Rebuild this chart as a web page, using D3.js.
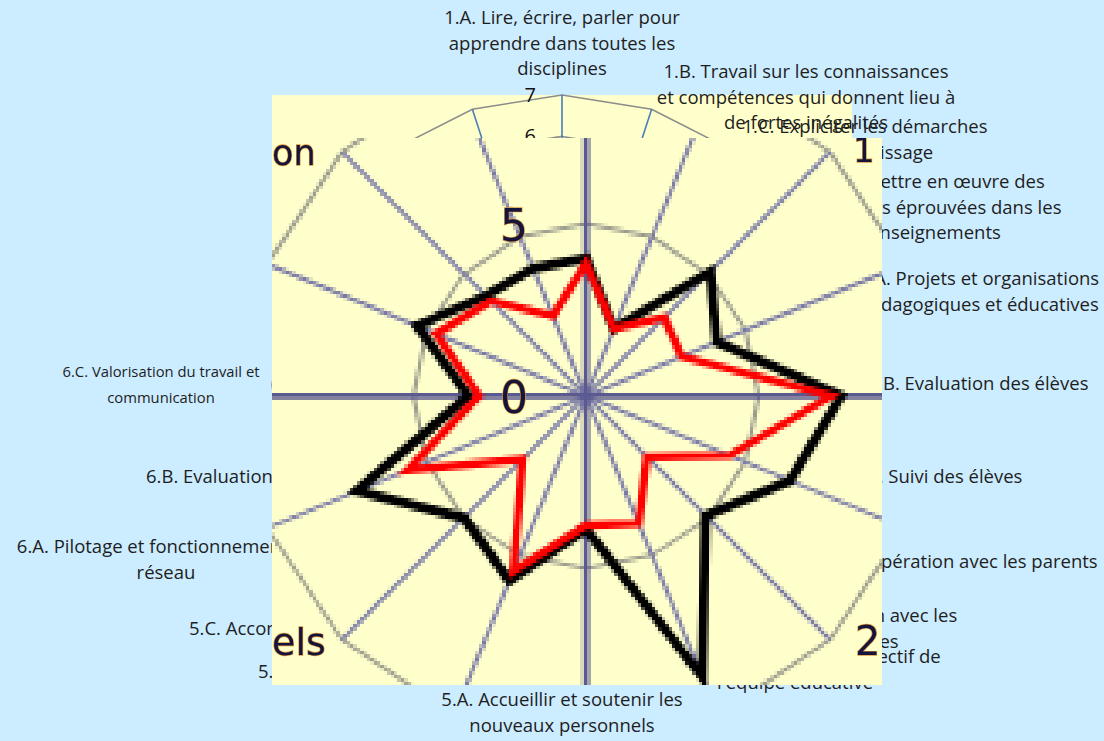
<!DOCTYPE html>
<html><head><meta charset="utf-8">
<script src="https://cdn.jsdelivr.net/npm/d3@7"></script>
<style>
html,body{margin:0;padding:0;background:#ccecff;}
#wrap{position:relative;width:1104px;height:741px;overflow:hidden;background:#ccecff;}
#wrap svg,#wrap canvas{position:absolute;left:0;top:0;}
</style></head><body><div id="wrap"></div>
<script>
// ---------- DATA ----------
// outer (vector) radar: 20 axes, scale 0..7
const categoryLabels = [
  ["1.A. Lire, écrire, parler pour","apprendre dans toutes les","disciplines"],
  ["1.B. Travail sur les connaissances","et compétences qui donnent lieu à","de fortes inégalités"],
  ["1.C. Expliciter les démarches","d’apprentissage"],
  ["1.D. Mettre en œuvre des","pratiques éprouvées dans les","enseignements"],
  ["2.A. Projets et organisations","pédagogiques et éducatives"],
  ["2.B. Evaluation des élèves"],
  ["2.C. Suivi des élèves"],
  ["3.A. Coopération avec les parents"],
  ["3.B. Coopération avec les","partenaires"],
  ["4.A. Favoriser le travail collectif de","l'équipe éducative"],
  ["5.A. Accueillir et soutenir les","nouveaux personnels"],
  ["5.B. Former les personnels"],
  ["5.C. Accompagner les personnels"],
  ["6.A. Pilotage et fonctionnement du","réseau"],
  ["6.B. Evaluation du réseau"],
  ["6.C. Valorisation du travail et","communication"],
  [""],[""],[""],[""]
];
const outerTicks = [0,1,2,3,4,5,6,7];

// inner (pasted, pixelated) radar: 16 axes, scale 0..10
const innerTicks = [0,5,10];
const innerTickLabels = ["0","5"];
const seriesBlack = [4.0,2.1,5.1,4.1,7.4,6.4,4.9,8.8,3.85,5.8,5.0,7.2,3.4,5.3,4.1,4.0];
const seriesRed   = [3.85,2.1,3.2,3.0,7.1,4.5,2.5,4.0,3.75,5.5,2.6,5.6,3.1,4.7,3.9,2.5];
const innerFragments = ["on","els","1","2"];

// ---------- LAYOUT ----------
const W=1104,H=741;
const plot={x:272,y:95,w:580,h:590};
const oc={x:562,y:385}, oR=290;
const img={x:272,y:138,w:610,h:547};
const ic={x:586,y:396}, iR=345;
// [x, first baseline, anchor, font size]
const labelLayout=[
  [562,24,"middle",18.5],[806,78,"middle",18.5],[865,133,"middle",18.5],[935,188,"middle",18.5],
  [979,285,"middle",18.5],[978,390,"middle",18.5],[937,483,"middle",18.5],[954,568,"middle",18.5],
  [849,622,"middle",18.5],[795,663,"middle",18.5],[562,706,"middle",18.5],[258,678,"start",18.5],
  [189,635,"start",18.5],[166,553,"middle",18.5],[146,483,"start",18.5],[161,377,"middle",14.8],
  [0,0,"middle",18.5],[0,0,"middle",18.5],[0,0,"middle",18.5],[0,0,"middle",18.5]
];
const fragLayout=[[272,165,35],[272,655,38],[853,162,34],[855,655,40]];
const lineGap=25.5;
const FONT="'Open Sans', sans-serif";

const wrap=d3.select("#wrap");

// ---------- bottom svg: vector radar ----------
const svg=wrap.append("svg").attr("width",W).attr("height",H);
svg.append("rect").attr("width",W).attr("height",H).attr("fill","#ccecff");
svg.append("rect").attr("x",plot.x).attr("y",plot.y).attr("width",plot.w).attr("height",plot.h).attr("fill","#ffffcc");

const nO=categoryLabels.length;
const rO=d3.scaleLinear().domain([0,d3.max(outerTicks)]).range([0,oR]);
const angO=i=>i*2*Math.PI/nO;
const g=svg.append("g").attr("transform",`translate(${oc.x},${oc.y})`);
const ringO=d3.lineRadial().angle((d,i)=>angO(i)).radius(d=>rO(d)).curve(d3.curveLinearClosed);
outerTicks.filter(t=>t>0).forEach(t=>{
  g.append("path").attr("d",ringO(d3.range(nO).map(()=>t)))
   .attr("fill","none").attr("stroke","#8c8c8c").attr("stroke-width",1.6);
});
d3.range(nO).forEach(i=>{
  const a=angO(i), r=rO(d3.max(outerTicks));
  g.append("line").attr("x1",0).attr("y1",0)
   .attr("x2",r*Math.sin(a)).attr("y2",-r*Math.cos(a))
   .attr("stroke","#4a7ebb").attr("stroke-width",1.6);
});
outerTicks.forEach(t=>{
  g.append("text").attr("x",-26).attr("y",-rO(t)+7).attr("text-anchor","end")
   .attr("font-family",FONT).attr("font-size",20).attr("fill","#111").text(t);
});
categoryLabels.forEach((lines,i)=>{
  const [x,y,anc,fs]=labelLayout[i];
  const t=svg.append("text").attr("font-family",FONT).attr("font-size",fs)
    .attr("fill","#1e1e1e").attr("text-anchor",anc);
  lines.forEach((s,k)=>t.append("tspan").attr("x",x).attr("y",y+k*lineGap).text(s));
});

// ---------- canvas: pixelated pasted radar ----------
const cw=180, ch=161;
const cv=wrap.append("canvas").attr("width",cw).attr("height",ch)
  .style("left",img.x+"px").style("top",img.y+"px")
  .style("width",img.w+"px").style("height",img.h+"px")
  .style("image-rendering","pixelated");
const ctx=cv.node().getContext("2d");
const sx=cw/img.w, sy=ch/img.h;
ctx.setTransform(sx,0,0,sy,-img.x*sx,-img.y*sy);
ctx.fillStyle="#ffffcc"; ctx.fillRect(img.x,img.y,img.w,img.h);

const nI=seriesBlack.length;
const rI=d3.scaleLinear().domain([0,d3.max(innerTicks)]).range([0,iR]);
const angI=i=>i*2*Math.PI/nI;
ctx.save(); ctx.translate(ic.x,ic.y);
const ringI=d3.lineRadial().angle((d,i)=>angI(i)).radius(d=>rI(d)).curve(d3.curveLinearClosed).context(ctx);
innerTicks.filter(t=>t>0).forEach(t=>{
  ctx.beginPath(); ringI(d3.range(nI).map(()=>t));
  ctx.strokeStyle="#9a9a8c"; ctx.lineWidth=3.6; ctx.stroke();
});
d3.range(nI).forEach(i=>{
  if(i%4===0) return;
  const a=angI(i), r=rI(d3.max(innerTicks));
  ctx.beginPath(); ctx.moveTo(0,0); ctx.lineTo(r*Math.sin(a),-r*Math.cos(a));
  ctx.strokeStyle="#7676a6"; ctx.lineWidth=3.6; ctx.stroke();
});
ctx.restore();
ctx.beginPath();
ctx.moveTo(ic.x,img.y); ctx.lineTo(ic.x,img.y+img.h);
ctx.moveTo(img.x,ic.y); ctx.lineTo(img.x+img.w,ic.y);
ctx.strokeStyle="#5a5a90"; ctx.lineWidth=6; ctx.stroke();
ctx.save(); ctx.translate(ic.x,ic.y);
const serLine=d3.lineRadial().angle((d,i)=>angI(i)).radius(d=>rI(d)).curve(d3.curveLinearClosed).context(ctx);
ctx.lineJoin="miter";
ctx.beginPath(); serLine(seriesBlack); ctx.strokeStyle="#000"; ctx.lineWidth=9.5; ctx.stroke();
ctx.beginPath(); serLine(seriesRed); ctx.strokeStyle="#ff0000"; ctx.lineWidth=8; ctx.stroke();
ctx.restore();

// ---------- top svg: texts of the pasted picture ----------
const overlay=wrap.append("svg").attr("width",W).attr("height",H);
overlay.append("clipPath").attr("id","imgclip").append("rect")
  .attr("x",img.x).attr("y",img.y).attr("width",img.w).attr("height",img.h);
const tg=overlay.append("g").attr("clip-path","url(#imgclip)");
innerTickLabels.forEach((s)=>{
  tg.append("text").attr("x",ic.x-86).attr("y",ic.y-rI(+s)+17)
   .attr("font-family","'DejaVu Sans', sans-serif").attr("font-size",44)
   .attr("fill","#14143c").attr("stroke","#d8963a").attr("stroke-width",1.3)
   .attr("paint-order","stroke").text(s);
});
innerFragments.forEach((s,k)=>{
  const [x,y,fs]=fragLayout[k];
  tg.append("text").attr("x",x).attr("y",y)
   .attr("font-family","'DejaVu Sans', sans-serif").attr("font-size",fs)
   .attr("fill","#14143c").attr("stroke","#d8963a").attr("stroke-width",1.3)
   .attr("paint-order","stroke").text(s);
});
</script></body></html>
